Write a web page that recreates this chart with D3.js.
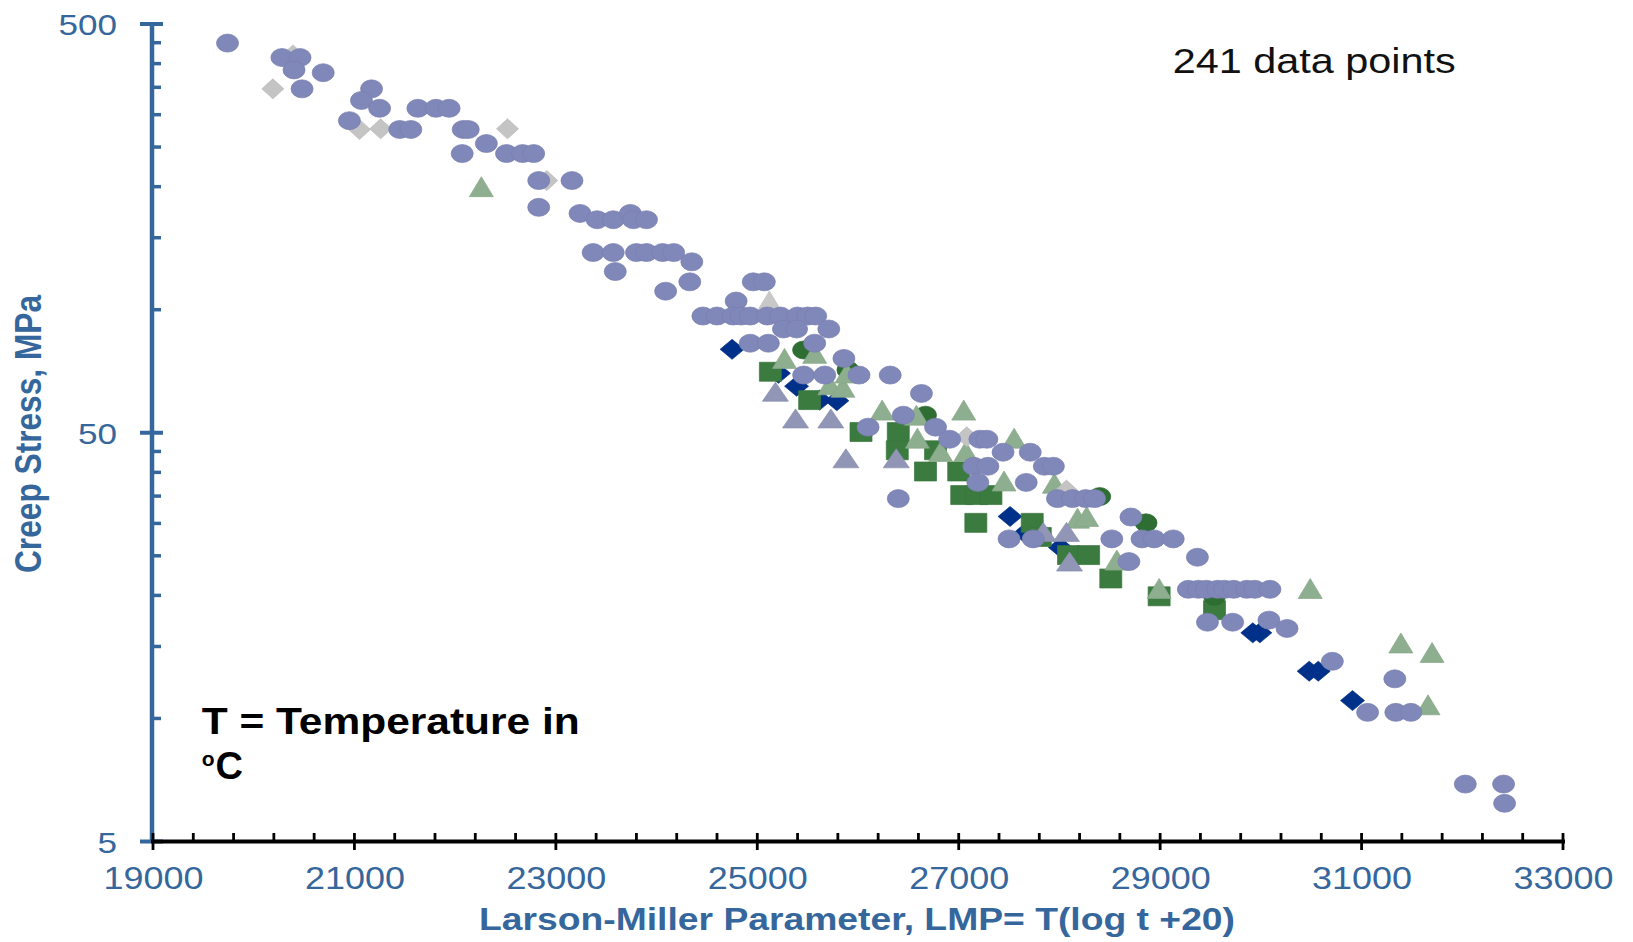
<!DOCTYPE html>
<html><head><meta charset="utf-8">
<script src="https://cdn.jsdelivr.net/npm/d3@7"></script>
<style>html,body{margin:0;padding:0;background:#fff;} svg{display:block;}</style>
</head><body>
<svg id="chart" width="1633" height="942"></svg>
<script>
// ---- tick labels / axis values ----
const xTicks = [19000, 21000, 23000, 25000, 27000, 29000, 31000, 33000];
const xMinorTicks = [19400,19800,20200,20600,21400,21800,22200,22600,23400,23800,24200,24600,
  25400,25800,26200,26600,27400,27800,28200,28600,29400,29800,30200,30600,31400,31800,32200,32600];
const yTicks = [5, 50, 500];
const yMinorTicks = [10,15,20,25,30,35,40,45,100,150,200,250,300,350,400,450];

// ---- series: [LMP, creep stress MPa] ----
const purpleCircles = [
  [19740,449],[20280,414],[20460,414],[20400,386],[20690,380],[20480,347],[21170,347],[21070,325],
  [21250,311],[20950,290],[21450,276],[21560,276],[21630,311],[21810,311],[21940,311],[22080,276],
  [22130,276],[22310,255],[22070,241],[22510,241],[22670,241],[22780,241],[22830,207],[23160,207],
  [22830,178],[23240,172],[23410,166],[23570,166],[23740,172],[23770,166],[23900,166],[23370,138],
  [23570,138],[23590,124],[23800,138],[23900,138],[24060,138],[24170,138],[24350,131],[24330,117],
  [24090,111],[24960,117],[25070,117],[24790,105],
  [24460,96.5],[24600,96.5],[24760,96.5],[24840,96.5],[24930,96.5],[25100,96.5],[25230,96.5],
  [25400,96.5],[25500,96.5],[25580,96.5],
  [25260,89.7],[25390,89.7],[25710,89.7],
  [24930,82.8],[25110,82.8],[25570,82.8],[25860,76.0],
  [25460,69.2],[25670,69.2],[26010,69.2],[26320,69.2],
  [26630,62.4],[26450,55.2],[26100,51.6],[26770,51.6],[26910,48.2],[27210,48.2],[27280,48.2],
  [27440,44.8],[27710,44.8],[27850,41.4],[27940,41.4],[27150,41.4],[27290,41.4],[27190,37.8],
  [27670,37.8],[26400,34.5],
  [27980,34.5],[28130,34.5],[28260,34.5],[28350,34.5],
  [27500,27.5],[27740,27.5],[28710,31.1],[28690,24.2],
  [28520,27.5],[28820,27.5],[28940,27.5],[29130,27.5],[29370,24.8],
  [29280,20.7],[29380,20.7],[29460,20.7],[29570,20.7],[29640,20.7],[29730,20.7],[29860,20.7],
  [29940,20.7],[30090,20.7],
  [29470,17.2],[29720,17.2],[30080,17.4],[30260,16.6],[30710,13.8],[31330,12.5],
  [31060,10.35],[31340,10.35],[31490,10.35],[32030,6.91],[32410,6.91],[32420,6.2]
];
const grayDiamonds = [[20190,347],[20390,420],[21050,276],[21260,277],[22520,277],[22910,207],[27080,48.9],[28070,36.2]];
const grayTriangles = [[25120,105]];
const lightGreenTriangles = [
  [22260,200],[25270,76.0],[25570,78.2],[25720,65.5],[25850,64.6],[25890,70.0],[26240,56.8],
  [26580,55.2],[27050,56.8],[26590,48.5],[26820,45.0],[27070,45.0],[27550,48.5],[27450,38.1],
  [27950,37.6],[28180,30.9],[28270,31.2],[28570,24.4],[28990,20.8],[30490,20.8],[31390,15.3],
  [31700,14.5],[31660,10.8]
];
const darkGreenSquares = [
  [25130,70.5],[25520,60.1],[26030,50.2],[26400,50.2],[26390,45.3],[26770,45.3],[26670,40.2],
  [27000,40.2],[27030,35.2],[27180,35.2],[27320,35.2],[27170,30.1],[27730,30.1],[27810,27.8],
  [28090,25.1],[28290,25.1],[28510,22.0],[28990,19.9],[29540,18.4]
];
const darkGreenCircles = [[25460,79.7],[25900,71.2],[26670,55.2],[28400,34.9],[28860,30.1],[29540,19.9]];
const navyDiamonds = [
  [24750,80.0],[25210,69.9],[25390,65.0],[25620,60.1],[25790,59.9],[27510,31.2],[27660,28.4],
  [28010,26.2],[29920,16.2],[29990,16.2],[30480,13.05],[30570,13.05],[30910,11.06]
];
const grayPurpleTriangles = [[25180,63.0],[25380,54.2],[25730,54.2],[25880,43.3],[26380,43.3],[27840,28.6],[28070,28.6],[28100,24.2]];

// ---- style ----
const BLUE = "#36679c";
const FONT = "'Liberation Sans', Arial, Helvetica, sans-serif";

const svg = d3.select("#chart");
svg.append("rect").attr("width",1633).attr("height",942).attr("fill","#fff");

const x = d3.scaleLinear().domain([19000, 33000]).range([153, 1563]);
const y = d3.scaleLog().domain([5, 500]).range([841.5, 24]);

// shapes
const shapes = {
  ellipse: (w,h) => `M${-w},0A${w},${h} 0 1,0 ${w},0A${w},${h} 0 1,0 ${-w},0Z`,
  diamond: (w,h) => `M0,${-h}L${w},0L0,${h}L${-w},0Z`,
  triangle: (w,h) => `M0,${-h}L${w},${h}L${-w},${h}Z`,
  square: (w,h) => `M${-w},${-h}H${w}V${h}H${-w}Z`
};

const series = [
  {data: navyDiamonds, shape: "diamond", w: 12, h: 10, fill: "#00318a"},
  {data: darkGreenSquares, shape: "square", w: 11, h: 9.5, fill: "#3c7b40"},
  {data: darkGreenCircles, shape: "ellipse", w: 11, h: 9, fill: "#2f6e33"},
  {data: lightGreenTriangles, shape: "triangle", w: 12, h: 10, fill: "#8daf8f"},
  {data: grayPurpleTriangles, shape: "triangle", w: 13, h: 9.5, fill: "#9196b6"},
  {data: grayDiamonds, shape: "diamond", w: 11, h: 10, fill: "#c4c4c4"},
  {data: grayTriangles, shape: "triangle", w: 12, h: 10, fill: "#c8c8c8"},
  {data: purpleCircles, shape: "ellipse", w: 11, h: 9, fill: "#8087b9"}
];

const plot = svg.append("g");
series.forEach(s => {
  plot.append("g").selectAll("path").data(s.data).join("path")
    .attr("d", shapes[s.shape](s.w, s.h))
    .attr("transform", d => `translate(${x(d[0])},${y(d[1])})`)
    .attr("fill", s.fill)
    .attr("stroke", d3.color(s.fill).darker(0.15))
    .attr("stroke-width", 0.7);
});

// ---- Y axis ----
const gy = svg.append("g").attr("transform", "translate(152,0)");
gy.append("line").attr("x1",0).attr("x2",0).attr("y1",22).attr("y2",843)
  .attr("stroke",BLUE).attr("stroke-width",4.5);
gy.selectAll(".ymin").data(yMinorTicks).join("line")
  .attr("x1",0).attr("x2",9).attr("y1",d=>y(d)).attr("y2",d=>y(d))
  .attr("stroke",BLUE).attr("stroke-width",3.5);
gy.selectAll(".ymaj").data(yTicks).join("line")
  .attr("x1",-12).attr("x2",11).attr("y1",d=>y(d)).attr("y2",d=>y(d))
  .attr("stroke",BLUE).attr("stroke-width",4);
const yAxisG = gy.append("g").call(d3.axisLeft(y).tickValues(yTicks).tickSize(0).tickFormat(d3.format("d")));
yAxisG.select(".domain").remove();
yAxisG.selectAll("text")
  .attr("x",-35).attr("dy","0.36em")
  .attr("font-size",30).attr("font-family",FONT).attr("fill",BLUE)
  .attr("textLength", d => String(d).length * 19.5).attr("lengthAdjust","spacingAndGlyphs");

// ---- X axis ----
const gx = svg.append("g").attr("transform","translate(0,841.5)");
gx.append("line").attr("x1",151).attr("x2",1565).attr("y1",0).attr("y2",0)
  .attr("stroke","#000").attr("stroke-width",4);
gx.selectAll(".xmin").data(xMinorTicks).join("line")
  .attr("x1",d=>x(d)).attr("x2",d=>x(d)).attr("y1",-8.5).attr("y2",0)
  .attr("stroke","#000").attr("stroke-width",2.8);
gx.selectAll(".xmaj").data(xTicks).join("line")
  .attr("x1",d=>x(d)).attr("x2",d=>x(d)).attr("y1",-8.5).attr("y2",8.5)
  .attr("stroke","#000").attr("stroke-width",2.8);
const xAxisG = gx.append("g").call(d3.axisBottom(x).tickValues(xTicks).tickSize(0).tickFormat(d3.format("d")));
xAxisG.select(".domain").remove();
xAxisG.selectAll("text")
  .attr("y",47.5).attr("dy",null)
  .attr("font-size",31).attr("font-family",FONT).attr("fill",BLUE)
  .attr("textLength",100).attr("lengthAdjust","spacingAndGlyphs");

// ---- titles ----
svg.append("text").attr("x",857).attr("y",930).attr("text-anchor","middle")
  .attr("font-family",FONT).attr("font-weight","bold").attr("font-size",32).attr("fill",BLUE)
  .attr("textLength",756).attr("lengthAdjust","spacingAndGlyphs")
  .text("Larson-Miller Parameter, LMP= T(log t +20)");

svg.append("g").attr("transform","translate(41,434) scale(1.18,1) rotate(-90)")
  .append("text").attr("x",0).attr("y",0).attr("text-anchor","middle")
  .attr("font-family",FONT).attr("font-weight","bold").attr("font-size",32).attr("fill",BLUE)
  .attr("textLength",278).attr("lengthAdjust","spacingAndGlyphs")
  .text("Creep Stress, MPa");

// ---- annotations ----
svg.append("text").attr("x",1172.7).attr("y",73)
  .attr("font-family",FONT).attr("font-size",35).attr("fill","#111")
  .attr("textLength",283).attr("lengthAdjust","spacingAndGlyphs")
  .text("241 data points");

svg.append("text").attr("x",201.7).attr("y",734)
  .attr("font-family",FONT).attr("font-weight","bold").attr("font-size",36).attr("fill","#000")
  .attr("textLength",378).attr("lengthAdjust","spacingAndGlyphs")
  .text("T = Temperature in");

const tc = svg.append("text").attr("x",201.7).attr("y",779)
  .attr("font-family",FONT).attr("font-weight","bold").attr("fill","#000");
tc.append("tspan").attr("font-size",21).attr("dy",-13).text("o");
tc.append("tspan").attr("font-size",38).attr("dy",13).attr("dx",1).text("C");
</script>
</body></html>
